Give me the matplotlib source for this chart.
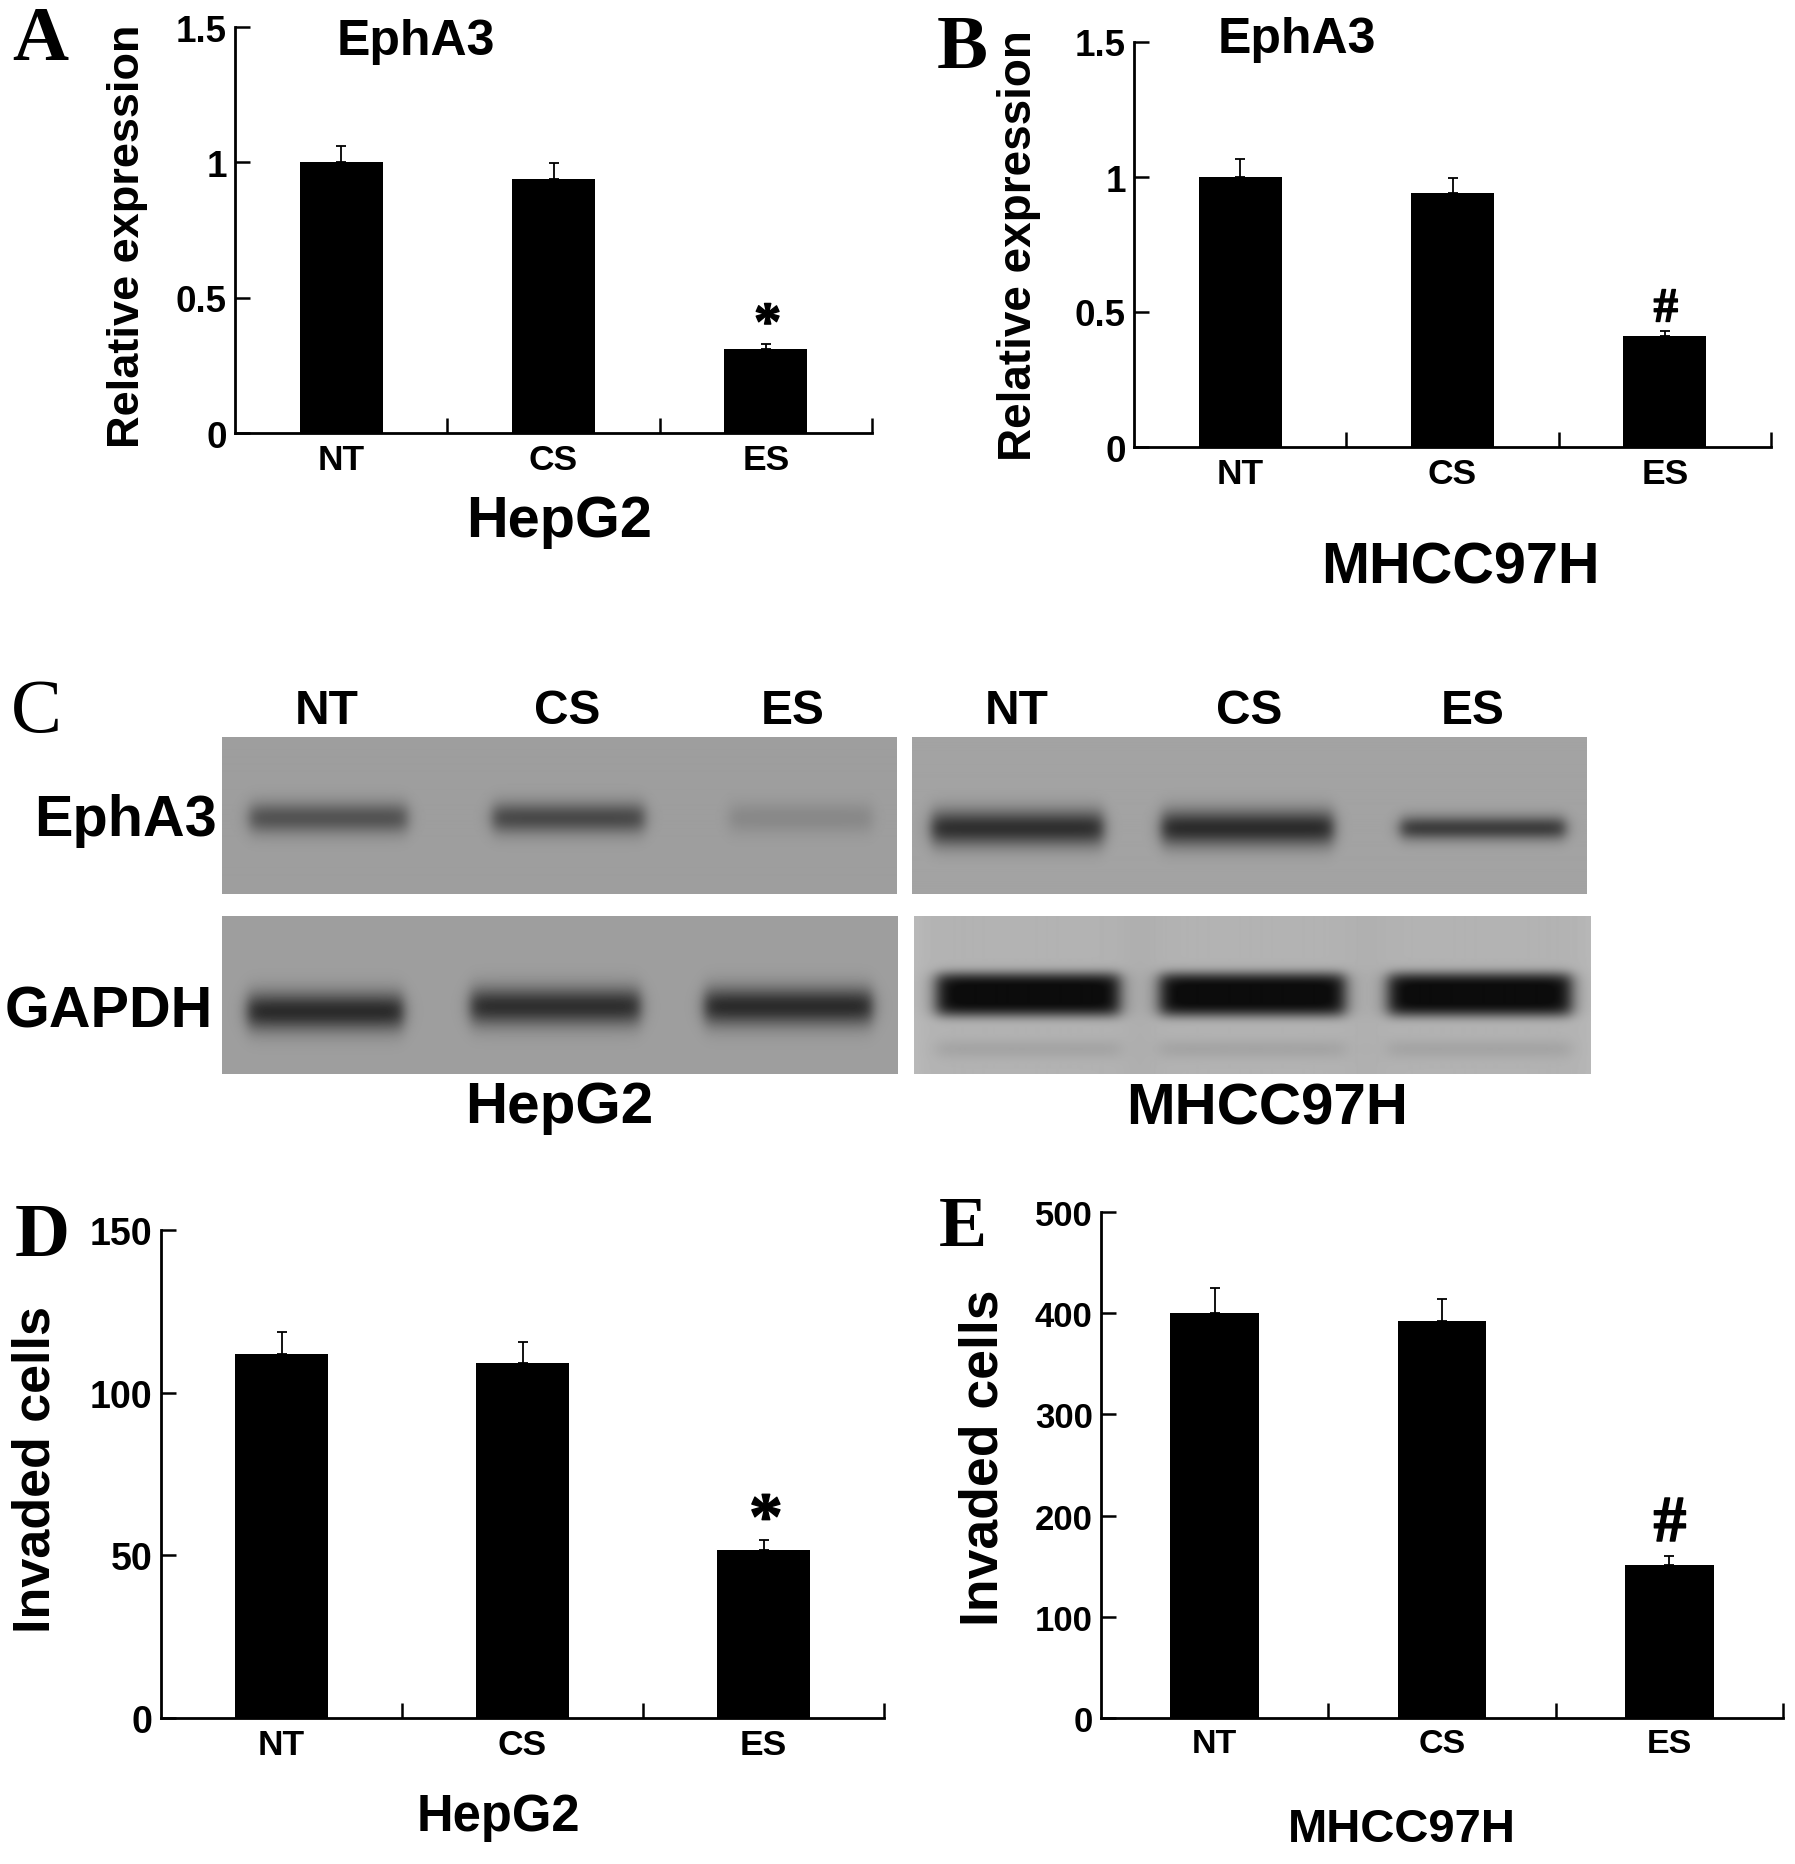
import numpy as np
import matplotlib
matplotlib.use("Agg")
import matplotlib.pyplot as plt
from matplotlib.textpath import TextPath
from matplotlib.font_manager import FontProperties
from matplotlib.path import Path
from matplotlib.transforms import ScaledTranslation

plt.rcParams['font.family'] = ['Liberation Sans', 'DejaVu Sans']
plt.rcParams['font.weight'] = 'bold'

# ---- data ----
groups = ['NT', 'CS', 'ES']

epha3_hepg2 = [1.00, 0.94, 0.31]
epha3_hepg2_err = [0.06, 0.058, 0.018]
epha3_mhcc = [1.00, 0.94, 0.41]
epha3_mhcc_err = [0.065, 0.057, 0.02]

inv_hepg2 = [112.0, 109.0, 51.7]
inv_hepg2_err = [6.7, 6.5, 3.1]
inv_mhcc = [400.0, 392.0, 151.0]
inv_mhcc_err = [25.0, 22.0, 9.5]

# band darkness (0 = none, 1 = saturated), lanes NT, CS, ES
blot_epha3_hepg2 = [0.55, 0.62, 0.16]
blot_epha3_mhcc = [0.82, 0.85, 0.72]
blot_gapdh_hepg2 = [0.85, 0.82, 0.85]
blot_gapdh_mhcc = [1.0, 1.0, 1.0]

W, H = 1795, 1865
fig = plt.figure(figsize=(W / 100, H / 100), dpi=100)


def px_axes(x0, y0, x1, y1):
    return fig.add_axes([x0 / W, 1 - y1 / H, (x1 - x0) / W, (y1 - y0) / H])


def ftext(x, y, s, **kw):
    fig.text(x / W, 1 - y / H, s, **kw)


def glyph_marker(ch):
    tp = TextPath((0, 0), ch, prop=FontProperties(family='Liberation Serif'))
    v = tp.vertices.copy()
    v -= (v.min(axis=0) + v.max(axis=0)) / 2
    return Path(v, tp.codes)


def bar_panel(rect, vals, errs, ymax, yticks, ylabels, ysize, xsize,
              mark, mark_ms, mark_dy):
    ax = px_axes(*rect)
    x = np.arange(3) + 0.5
    ax.bar(x, vals, width=0.39, color='black', zorder=2)
    ax.errorbar(x, vals, yerr=[np.zeros(3), errs], fmt='none', ecolor='black',
                elinewidth=1.3, capsize=3.5, capthick=1.3, zorder=1)
    ax.set_xlim(0, 3)
    ax.set_ylim(0, ymax)
    for s in ['top', 'right']:
        ax.spines[s].set_visible(False)
    for s in ['left', 'bottom']:
        ax.spines[s].set_linewidth(2.0)
    ax.set_yticks(yticks)
    ax.set_yticklabels(ylabels, fontsize=ysize, fontweight='bold')
    ax.tick_params(axis='y', direction='in', length=11, width=1.8, pad=6)
    ax.set_xticks(x)
    ax.set_xticklabels(groups, fontsize=xsize, fontweight='bold')
    ax.tick_params(axis='x', length=0, pad=7)
    ax.set_xticks([1, 2, 3], minor=True)
    ax.tick_params(axis='x', which='minor', direction='in', length=11, width=1.8)
    tr = ax.transData + ScaledTranslation(0, mark_dy / 72, fig.dpi_scale_trans)
    ax.plot([2.5], [vals[2] + errs[2]], marker=glyph_marker(mark), ms=mark_ms,
            color='black', linestyle='none', transform=tr, clip_on=False)
    ax.set_facecolor('none')
    return ax


serif = dict(family=['Liberation Serif', 'DejaVu Serif'], fontweight='bold',
             ha='center', va='center')
cc = dict(ha='center', va='center', fontweight='bold')

# ---- panel A ----
bar_panel((235, 28, 872, 434), epha3_hepg2, epha3_hepg2_err, 1.5,
          [0, 0.5, 1, 1.5], ['0', '0.5', '1', '1.5'], 26.5, 25.5, '*', 26, 17)
ftext(40, 42, 'A', fontsize=56, **serif)
ftext(416, 42, 'EphA3', fontsize=36, **cc)
ftext(128, 236, 'Relative expression', fontsize=32.5, rotation=90, **cc)
ftext(559, 522, 'HepG2', fontsize=41.5, **cc)

# ---- panel B ----
bar_panel((1134, 43, 1771, 448), epha3_mhcc, epha3_mhcc_err, 1.5,
          [0, 0.5, 1, 1.5], ['0', '0.5', '1', '1.5'], 26.5, 25.5, '#', 23, 19)
ftext(962, 50, 'B', fontsize=55, **serif)
ftext(1297, 40, 'EphA3', fontsize=36, **cc)
ftext(1019, 246, 'Relative expression', fontsize=33, rotation=90, **cc)
ftext(1460, 568, 'MHCC97H', fontsize=41.5, **cc)

# ---- panel D ----
bar_panel((161, 1231, 884, 1719), inv_hepg2, inv_hepg2_err, 150,
          [0, 50, 100, 150], ['0', '50', '100', '150'], 27, 25.5, '*', 32, 17)
ftext(42, 1238, 'D', fontsize=55, **serif)
ftext(36, 1470, 'Invaded cells', fontsize=37.5, rotation=90, **cc)
ftext(498, 1818, 'HepG2', fontsize=36.5, **cc)

# ---- panel E ----
bar_panel((1101, 1213, 1783, 1719), inv_mhcc, inv_mhcc_err, 500,
          [0, 100, 200, 300, 400, 500],
          ['0', '100', '200', '300', '400', '500'], 25, 24.5, '#', 31, 26)
ftext(963, 1228, 'E', fontsize=52, **serif)
ftext(984, 1458, 'Invaded cells', fontsize=38.5, rotation=90, **cc)
ftext(1402, 1830, 'MHCC97H', fontsize=34, **cc)


# ---- panel C: western blots ----
def blot(rect, dark, lanes, yc, thick, bg, power=2, soft=8, extra=None,
         lane_shade=0.0):
    x0, y0, x1, y1 = rect
    w, h = x1 - x0, y1 - y0
    xx, yy = np.meshgrid(np.arange(w) + x0, np.arange(h) + y0)
    img = np.full((h, w), bg)
    for i, (lx0, lx1) in enumerate(lanes):
        hx = 0.5 * (np.tanh((xx - lx0) / soft) - np.tanh((xx - lx1) / soft))
        if lane_shade:
            hw = 0.5 * (np.tanh((xx - lx0 + 25) / 18) - np.tanh((xx - lx1 - 25) / 18))
            img = img - lane_shade * hw
        yci = yc[i] if np.ndim(yc) else yc
        th = thick[i] if np.ndim(thick) else thick
        vy = np.exp(-np.log(2) * np.abs((yy - yci) / (th / 2)) ** power)
        img = img - dark[i] * hx * vy * (bg - 0.09)
        if extra is not None:
            ey, eth, ed = extra
            vy2 = np.exp(-np.log(2) * ((yy - ey) / (eth / 2)) ** 2)
            img = img - ed * hx * vy2 * bg
    img = np.clip(img, 0.05, 1)
    ax = px_axes(*rect)
    ax.imshow(img, cmap='gray', vmin=0, vmax=1, aspect='auto',
              interpolation='bilinear')
    ax.axis('off')


blot((222, 738, 897, 895), blot_epha3_hepg2,
     [(249, 407), (492, 644), (729, 872)], 819, 26, 0.62)
blot((912, 738, 1587, 895), blot_epha3_mhcc,
     [(931, 1103), (1161, 1333), (1400, 1565)], 829, [30, 30, 20], 0.64)
blot((222, 917, 898, 1075), blot_gapdh_hepg2,
     [(247, 403), (470, 640), (704, 872)], [1012, 1007, 1007], 32, 0.62)
blot((914, 917, 1590, 1075), blot_gapdh_mhcc,
     [(936, 1119), (1159, 1344), (1387, 1570)], 995, 40, 0.76,
     power=4, soft=10, extra=(1050, 16, 0.07), lane_shade=0.06)

ftext(36, 714, 'C', fontsize=55, family=['Liberation Serif', 'DejaVu Serif'],
      fontweight='normal', ha='center', va='center')
for xc, g in zip([327, 567, 793, 1017, 1249, 1473], groups * 2):
    ftext(xc, 712, g, fontsize=34.5, **cc)
ftext(125, 821, 'EphA3', fontsize=41.5, **cc)
ftext(109, 1013, 'GAPDH', fontsize=41.5, **cc)
ftext(559, 1108, 'HepG2', fontsize=42, **cc)
ftext(1267, 1110, 'MHCC97H', fontsize=42, **cc)

fig.savefig('out.png', dpi=100)
